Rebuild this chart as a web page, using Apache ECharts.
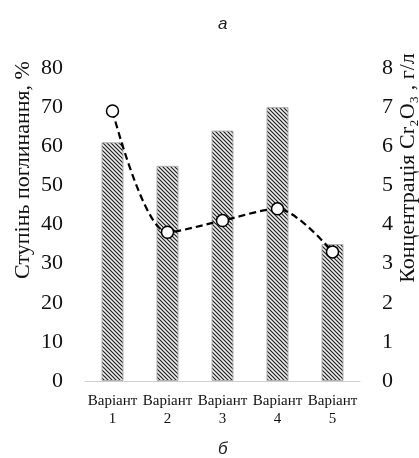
<!DOCTYPE html>
<html>
<head>
<meta charset="utf-8">
<script src="https://cdn.jsdelivr.net/npm/echarts@6/dist/echarts.min.js"></script>
<style>
  html, body { margin: 0; padding: 0; background: #fff; }
  #chart { width: 419px; height: 458px; }
</style>
</head>
<body>
<div id="chart"></div>
<script>
// дані
var categories = ['Варіант\n1', 'Варіант\n2', 'Варіант\n3', 'Варіант\n4', 'Варіант\n5'];
var absorption = [61, 55, 64, 70, 35];        // Ступінь поглинання, %
var concentration = [6.9, 3.8, 4.1, 4.4, 3.3]; // Концентрація Cr2O3, г/л

// штрихування для стовпчиків
function hatch() {
  var c = document.createElement('canvas');
  c.width = 4; c.height = 4;
  var ctx = c.getContext('2d');
  ctx.fillStyle = '#efefef';
  ctx.fillRect(0, 0, 4, 4);
  ctx.strokeStyle = '#1e1e1e';
  ctx.lineWidth = 1.2;
  ctx.beginPath();
  ctx.moveTo(-1, -1); ctx.lineTo(5, 5);
  ctx.moveTo(-1, 3); ctx.lineTo(1, 5);
  ctx.moveTo(3, -1); ctx.lineTo(5, 1);
  ctx.stroke();
  return c;
}

var serif = '"Liberation Serif", "Times New Roman", serif';
var italicSans = { fontFamily: 'Liberation Sans', fontStyle: 'italic', fontWeight: 'normal', fontSize: 17, color: '#222' };
var myChart = echarts.init(document.getElementById('chart'));
var option = {
  animation: false,
  textStyle: { fontFamily: serif },
  title: [
    { text: 'а', left: 213, top: 11, textStyle: italicSans },
    { text: 'б', left: 213, top: 436, textStyle: italicSans }
  ],
  // назви осей (зміщені догори, як в оригіналі)
  graphic: [
    {
      type: 'text', x: 23, y: 170, rotation: Math.PI / 2,
      style: { text: 'Ступінь поглинання, %', font: '22px ' + serif, fill: '#111', align: 'center', verticalAlign: 'middle' }
    },
    {
      type: 'text', x: 408, y: 168, rotation: Math.PI / 2,
      style: { text: 'Концентрація Cr₂O₃ , г/л', font: '22px ' + serif, fill: '#111', align: 'center', verticalAlign: 'middle' }
    }
  ],
  grid: { left: 85, right: 59, top: 68, bottom: 77, containLabel: false, outerBoundsMode: 'none' },
  xAxis: {
    type: 'category',
    data: categories,
    axisLine: { lineStyle: { color: '#d0d0d0', width: 1 } },
    axisTick: { show: false },
    axisLabel: { interval: 0, margin: 11, fontSize: 15, lineHeight: 18, color: '#111', fontFamily: serif }
  },
  yAxis: [
    {
      type: 'value', min: 0, max: 80, interval: 10,
      splitLine: { show: false },
      axisLine: { show: false },
      axisTick: { show: false },
      axisLabel: { margin: 22, fontSize: 22, color: '#111', fontFamily: serif }
    },
    {
      type: 'value', min: 0, max: 8, interval: 1,
      splitLine: { show: false },
      axisLine: { show: false },
      axisTick: { show: false },
      axisLabel: { margin: 22, fontSize: 22, color: '#111', fontFamily: serif }
    }
  ],
  series: [
    {
      name: 'Ступінь поглинання',
      type: 'bar',
      data: absorption,
      barWidth: 22,
      itemStyle: {
        color: { image: hatch(), repeat: 'repeat' },
        borderColor: '#b0b0b0',
        borderWidth: 1
      }
    },
    {
      name: 'Концентрація',
      type: 'line',
      yAxisIndex: 1,
      data: concentration,
      smooth: 0.3,
      symbol: 'circle',
      symbolSize: 12,
      lineStyle: { color: '#000', width: 2.2, type: [7, 4] },
      itemStyle: { color: '#fff', borderColor: '#000', borderWidth: 1.5 }
    }
  ]
};
myChart.setOption(option);
</script>
</body>
</html>
